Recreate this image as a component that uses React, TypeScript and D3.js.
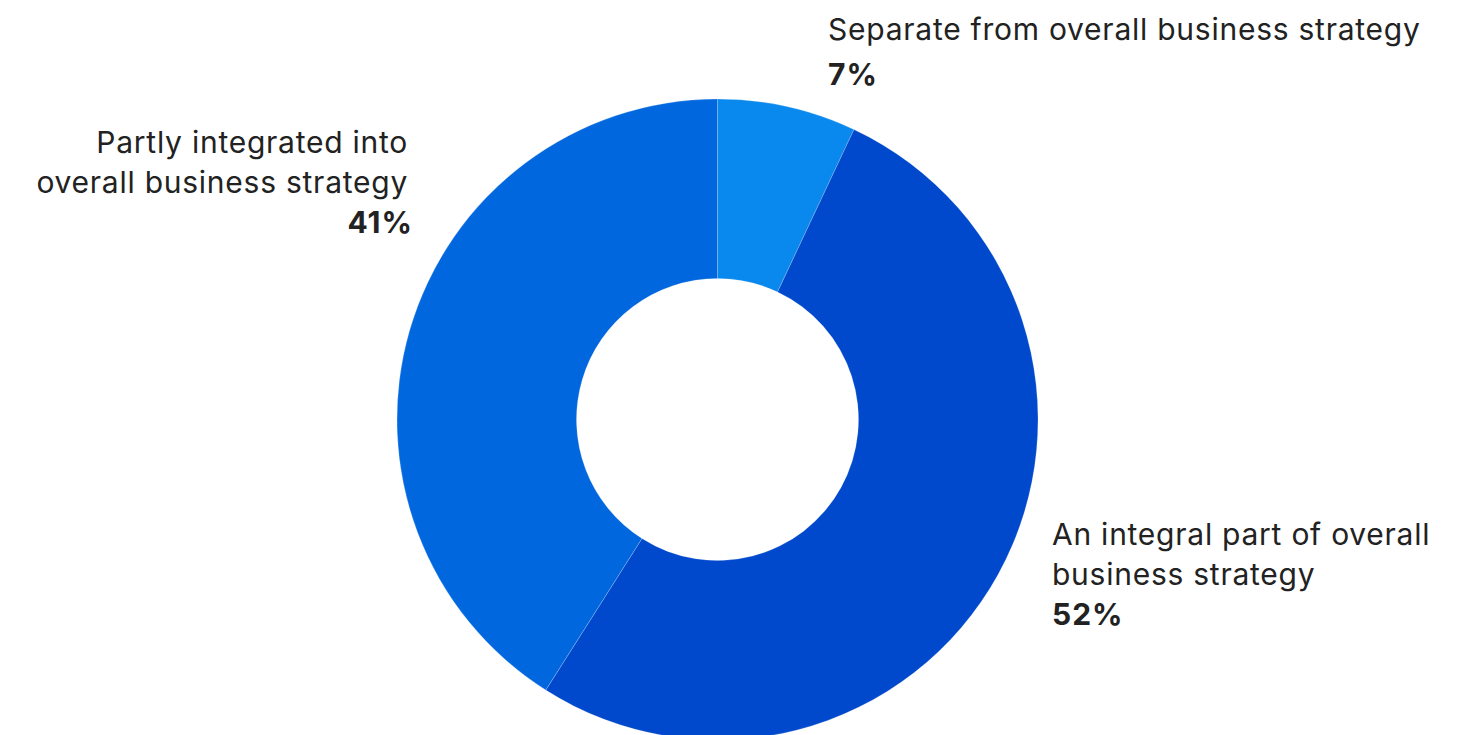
import React from "react";
import * as d3 from "d3";

const categories = [
  "Separate from overall business strategy",
  "An integral part of overall business strategy",
  "Partly integrated into overall business strategy",
];
const values = [7, 52, 41];
const colors = ["#0988EE", "#0048CC", "#0067DF"];
const labelLines = [
  ["Separate from overall business strategy"],
  ["An integral part of overall", "business strategy"],
  ["Partly integrated into", "overall business strategy"],
];

const W = 1470;
const H = 735;
const cx = 717.5;
const cy = 419.5;
const outerR = 320.5;
const innerR = 141;

const labelPos = [
  { x: 828, y: 40, anchor: "start" },
  { x: 1052, y: 545, anchor: "start" },
  { x: 408, y: 153, anchor: "end" },
];

export default function App() {
  const pie = d3.pie<number>().sort(null).value((d) => d);
  const arcs = pie(values);
  const arc = d3.arc<d3.PieArcDatum<number>>().innerRadius(innerR).outerRadius(outerR);
  const lh = 40;
  return (
    <div style={{ position: "absolute", left: 0, top: 0, width: W, height: H, background: "#fff" }}>
      <svg width={W} height={H} style={{ display: "block" }}>
        <g transform={`translate(${cx},${cy})`}>
          {arcs.map((a, i) => (
            <path key={categories[i]} d={arc(a) || ""} fill={colors[i]} stroke="#ffffff" strokeWidth={0.4} strokeOpacity={0.5} />
          ))}
        </g>
        {labelPos.map((p, i) => (
          <text
            key={categories[i]}
            x={p.x}
            y={p.y}
            textAnchor={p.anchor}
            fontFamily="Inter, 'Noto Sans', sans-serif"
            fontSize={30}
            letterSpacing={0.75}
            fill="#222"
          >
            {labelLines[i].map((l, j) => (
              <tspan key={j} x={p.x} y={p.y + j * lh}>
                {l}
              </tspan>
            ))}
            <tspan x={p.x + (p.anchor === "end" ? 5 : 0)} y={p.y + labelLines[i].length * lh + (i === 0 ? 5 : 0)} fontWeight={700} letterSpacing={1}>
              {d3.format(".0f")(values[i]) + "%"}
            </tspan>
          </text>
        ))}
      </svg>
    </div>
  );
}
